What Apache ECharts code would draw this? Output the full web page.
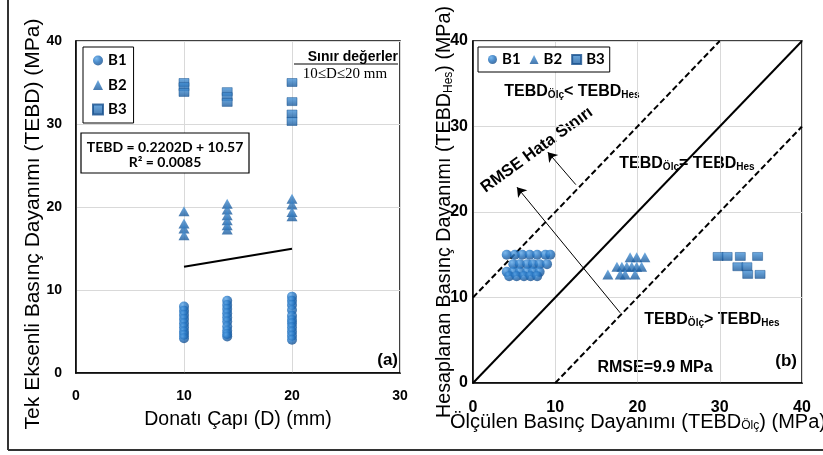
<!DOCTYPE html>
<html>
<head>
<meta charset="utf-8">
<script src="https://cdn.jsdelivr.net/npm/echarts@6/dist/echarts.min.js"></script>
<style>
  html, body { margin: 0; padding: 0; background: #fff; }
  #chart { width: 823px; height: 455px; }
</style>
</head>
<body>
<div id="chart"></div>
<script>
// --- (a) TEBD vs rebar diameter ---
var diameters = [10, 14, 20];
var b1ByDia = [
  [8.0, 7.5, 7.0, 6.5, 6.0, 5.5, 5.0, 4.6, 4.2],
  [8.7, 8.2, 7.7, 7.2, 6.7, 6.2, 5.6, 5.1, 4.7, 4.4],
  [9.2, 8.7, 8.2, 7.6, 6.9, 6.4, 6.0, 5.5, 5.0, 4.5, 4.0]
];
var b2ByDia = [
  [19.5, 18.0, 17.4, 16.6],
  [20.4, 19.7, 19.0, 18.4, 17.8, 17.3],
  [21.0, 20.3, 19.4, 18.9]
];
var b3ByDia = [
  [35.0, 34.5, 33.8],
  [33.9, 33.3, 32.6],
  [35.0, 32.7, 31.2, 30.3]
];
var trendLine = [[10, 12.79], [20, 14.97]];

// --- (b) measured vs calculated ---
var b1Meas = [4.1, 5.1, 6.0, 6.9, 7.8, 8.8, 9.4, 4.9, 5.7, 6.6, 7.3, 8.1, 9.0, 4.1, 4.9, 5.7, 6.6, 7.3, 8.1, 4.4, 5.3, 6.2, 7.0, 7.8];
var b1Calc = [15.0, 15.0, 15.0, 15.0, 15.0, 15.0, 15.0, 13.9, 13.9, 13.9, 13.9, 13.9, 13.9, 13.0, 13.0, 13.0, 13.0, 13.0, 13.0, 12.5, 12.5, 12.5, 12.5, 12.5];
var b2Meas = [19.1, 19.9, 20.9, 17.5, 18.1, 18.7, 19.3, 19.9, 20.5, 16.4, 17.9, 18.5, 19.7];
var b2Calc = [14.7, 14.7, 14.7, 13.6, 13.6, 13.6, 13.6, 13.6, 13.6, 12.7, 12.7, 12.7, 12.7];
var b3Meas = [29.8, 30.9, 32.5, 34.6, 32.2, 33.3, 33.4, 34.9];
var b3Calc = [14.8, 14.8, 14.8, 14.8, 13.6, 13.6, 12.7, 12.7];

var lineEqual = [[0, 0], [40, 40]];
var lineUpper = [[0, 10], [30, 40]];
var lineLower = [[10, 0], [40, 30]];
var arrowSegs = [
  [[12.5, 23.2], [9.1, 27.0]],
  [[17.9, 8.2], [5.35, 22.9]]
];

function byDia(values) {
  var out = [];
  values.forEach(function(list, i) {
    list.forEach(function(v) { out.push([diameters[i], v]); });
  });
  return out;
}
function zipXY(xs, ys) {
  return xs.map(function(x, i) { return [x, ys[i]]; });
}

var radialBlue = { type: 'radial', x: 0.35, y: 0.3, r: 0.75,
  colorStops: [{ offset: 0, color: '#5ba6e8' }, { offset: 0.5, color: '#2171bf' }, { offset: 1, color: '#164d8a' }] };
var linearBlue = { type: 'linear', x: 0, y: 0, x2: 0, y2: 1,
  colorStops: [{ offset: 0, color: '#4a97dc' }, { offset: 1, color: '#18589a' }] };

var sans = '"Liberation Sans", Arial, sans-serif';
var calib = 'Lato, "Liberation Sans", sans-serif';

function subRich(size, subSize) {
  return {
    a: { fontFamily: sans, fontSize: size, fontWeight: 'bold', color: '#000', lineHeight: size + 6, verticalAlign: 'bottom' },
    s: { fontFamily: sans, fontSize: subSize, fontWeight: 'bold', color: '#000', lineHeight: subSize, verticalAlign: 'bottom' }
  };
}
function titleRich(size, subSize) {
  return {
    a: { fontFamily: sans, fontSize: size, color: '#000', lineHeight: size + 6, verticalAlign: 'bottom' },
    s: { fontFamily: sans, fontSize: subSize, color: '#000', lineHeight: subSize, verticalAlign: 'bottom' }
  };
}

var axisCommon = function(fontSize, margin) {
  return {
    type: 'value',
    interval: 10,
    axisLine: { show: true, lineStyle: { color: '#000', width: 1.5 } },
    axisTick: { show: false },
    axisLabel: { color: '#000', fontSize: fontSize, fontWeight: 'bold', fontFamily: sans, margin: margin },
    splitLine: { lineStyle: { color: '#d9d9d9', width: 1 } }
  };
};

var chart = echarts.init(document.getElementById('chart'), null, { renderer: 'canvas' });
chart.setOption({
  animation: false,
  backgroundColor: '#fff',
  grid: [
    { left: 76, top: 41, width: 324, height: 332, show: true, borderColor: '#000', borderWidth: 1.5, backgroundColor: 'transparent' },
    { left: 473, top: 41, width: 329, height: 342, show: true, borderColor: '#000', borderWidth: 1.5, backgroundColor: 'transparent' }
  ],
  xAxis: [
    Object.assign(axisCommon(14, 16), { gridIndex: 0, min: 0, max: 30 }),
    Object.assign(axisCommon(16, 17), { gridIndex: 1, min: 0, max: 40 })
  ],
  yAxis: [
    Object.assign(axisCommon(14, 14), { gridIndex: 0, min: 0, max: 40 }),
    Object.assign(axisCommon(16, 5), { gridIndex: 1, min: 0, max: 40 })
  ],
  legend: [
    {
      left: 83, top: 47, orient: 'vertical',
      data: [{ name: 'B1', icon: 'circle' }, { name: 'B2', icon: 'triangle' }, { name: 'B3', icon: 'rect' }],
      backgroundColor: '#fff', borderColor: '#000', borderWidth: 1, borderRadius: 0,
      padding: [6, 7, 6, 9], itemGap: 9.5, itemWidth: 10, itemHeight: 10,
      textStyle: { fontFamily: calib, fontWeight: 'bold', fontSize: 15, color: '#000' },
      selectedMode: false, z: 20
    },
    {
      left: 478, top: 47, orient: 'horizontal',
      data: [{ name: 'B1', icon: 'circle' }, { name: 'B2', icon: 'triangle' }, { name: 'B3', icon: 'rect' }],
      backgroundColor: '#fff', borderColor: '#000', borderWidth: 1, borderRadius: 0,
      padding: [5, 5, 5, 10], itemGap: 9, itemWidth: 9, itemHeight: 9,
      textStyle: { fontFamily: calib, fontWeight: 'bold', fontSize: 15, color: '#000' },
      selectedMode: false, z: 20
    }
  ],
  series: [
    { name: 'B1', type: 'scatter', xAxisIndex: 0, yAxisIndex: 0, symbol: 'circle', symbolSize: 10,
      itemStyle: { color: radialBlue }, data: byDia(b1ByDia) },
    { name: 'B2', type: 'scatter', xAxisIndex: 0, yAxisIndex: 0, symbol: 'triangle', symbolSize: [11, 10],
      itemStyle: { color: linearBlue }, data: byDia(b2ByDia) },
    { name: 'B3', type: 'scatter', xAxisIndex: 0, yAxisIndex: 0, symbol: 'rect', symbolSize: [10, 8],
      itemStyle: { color: linearBlue, borderColor: '#174f8c', borderWidth: 0.6 }, data: byDia(b3ByDia) },
    { name: 'trend', type: 'line', xAxisIndex: 0, yAxisIndex: 0, symbol: 'none',
      lineStyle: { color: '#000', width: 2 }, data: trendLine },

    { name: 'equal', type: 'line', xAxisIndex: 1, yAxisIndex: 1, symbol: 'none', z: 1,
      lineStyle: { color: '#000', width: 2 }, data: lineEqual,
      markLine: {
        silent: true, symbol: ['none', 'arrow'], symbolSize: 9,
        lineStyle: { color: '#000', width: 1, type: 'solid' },
        label: { show: false },
        data: arrowSegs.map(function(s) { return [{ coord: s[0] }, { coord: s[1] }]; })
      } },
    { name: 'upper', type: 'line', xAxisIndex: 1, yAxisIndex: 1, symbol: 'none', z: 1,
      lineStyle: { color: '#000', width: 2, type: [6, 3] }, data: lineUpper },
    { name: 'lower', type: 'line', xAxisIndex: 1, yAxisIndex: 1, symbol: 'none', z: 1,
      lineStyle: { color: '#000', width: 2, type: [6, 3] }, data: lineLower },
    { name: 'B1', type: 'scatter', xAxisIndex: 1, yAxisIndex: 1, symbol: 'circle', symbolSize: 10,
      itemStyle: { color: radialBlue }, data: zipXY(b1Meas, b1Calc) },
    { name: 'B2', type: 'scatter', xAxisIndex: 1, yAxisIndex: 1, symbol: 'triangle', symbolSize: [11, 10],
      itemStyle: { color: linearBlue }, data: zipXY(b2Meas, b2Calc) },
    { name: 'B3', type: 'scatter', xAxisIndex: 1, yAxisIndex: 1, symbol: 'rect', symbolSize: [10, 8],
      itemStyle: { color: linearBlue, borderColor: '#174f8c', borderWidth: 0.6 }, data: zipXY(b3Meas, b3Calc) }
  ],
  graphic: [
    // outer frame (left and bottom visible)
    { type: 'line', shape: { x1: 8, y1: 0, x2: 8, y2: 450 }, style: { stroke: '#333', lineWidth: 2 } },
    { type: 'line', shape: { x1: 8, y1: 450, x2: 823, y2: 450 }, style: { stroke: '#333', lineWidth: 2 } },

    // axis titles
    { type: 'text', x: 33, y: 224, rotation: Math.PI / 2,
      style: { text: 'Tek Eksenli Basınç Dayanımı (TEBD) (MPa)', font: '21px ' + sans, fill: '#000', align: 'center', verticalAlign: 'middle' } },
    { type: 'text', x: 238, y: 420,
      style: { text: 'Donatı Çapı (D) (mm)', font: '19.5px ' + sans, fill: '#000', align: 'center', verticalAlign: 'middle' } },
    { type: 'text', x: 442, y: 212, rotation: Math.PI / 2,
      style: { text: '{a|Hesaplanan Basınç Dayanımı (TEBD}{s|Hes}{a|) (MPa)}', rich: titleRich(19.7, 12), align: 'center', verticalAlign: 'middle' } },
    { type: 'text', x: 638, y: 419,
      style: { text: '{a|Ölçülen Basınç Dayanımı (TEBD}{s|Ölç}{a|) (MPa)}', rich: titleRich(20, 12), align: 'center', verticalAlign: 'middle' } },

    // (a) annotations
    { type: 'rect', z: 100, shape: { x: 81, y: 133, width: 168, height: 40 }, style: { fill: '#fff', stroke: '#000', lineWidth: 1.2 } },
    { type: 'text', z: 101, x: 165, y: 147,
      style: { text: 'TEBD = 0.2202D + 10.57', font: 'bold 14px ' + calib, fill: '#000', align: 'center', verticalAlign: 'middle' } },
    { type: 'text', z: 101, x: 165, y: 162,
      style: { text: 'R² = 0.0085', font: 'bold 14px ' + calib, fill: '#000', align: 'center', verticalAlign: 'middle' } },
    { type: 'text', x: 398, y: 57,
      style: { text: 'Sınır değerler', font: 'bold 14px ' + sans, fill: '#000', align: 'right', verticalAlign: 'middle' } },
    { type: 'line', shape: { x1: 294, y1: 64, x2: 398, y2: 64 }, style: { stroke: '#000', lineWidth: 1.2 } },
    { type: 'text', x: 345, y: 74,
      style: { text: '10≤D≤20 mm', font: '15px "Liberation Serif", serif', fill: '#000', align: 'center', verticalAlign: 'middle' } },
    { type: 'text', x: 398, y: 360,
      style: { text: '(a)', font: 'bold 17px ' + sans, fill: '#000', align: 'right', verticalAlign: 'middle' } },

    // (b) annotations
    { type: 'text', x: 797, y: 361,
      style: { text: '(b)', font: 'bold 17px ' + sans, fill: '#000', align: 'right', verticalAlign: 'middle' } },
    { type: 'text', x: 572, y: 89,
      style: { text: '{a|TEBD}{s|Ölç}{a|< TEBD}{s|Hes}', rich: subRich(16, 10), align: 'center', verticalAlign: 'middle' } },
    { type: 'text', x: 687, y: 161,
      style: { text: '{a|TEBD}{s|Ölç}{a|= TEBD}{s|Hes}', rich: subRich(16, 10), align: 'center', verticalAlign: 'middle' } },
    { type: 'text', x: 712, y: 317,
      style: { text: '{a|TEBD}{s|Ölç}{a|> TEBD}{s|Hes}', rich: subRich(16, 10), align: 'center', verticalAlign: 'middle' } },
    { type: 'text', x: 655, y: 368,
      style: { text: 'RMSE=9.9 MPa', font: 'bold 16px ' + sans, fill: '#000', align: 'center', verticalAlign: 'middle' } },
    { type: 'text', x: 537, y: 150, rotation: 36 * Math.PI / 180,
      style: { text: 'RMSE Hata Sınırı', font: 'bold 16.5px ' + sans, fill: '#000', align: 'center', verticalAlign: 'middle' } }
  ]
});
window.addEventListener('resize', function() { chart.resize(); });
</script>
</body>
</html>
